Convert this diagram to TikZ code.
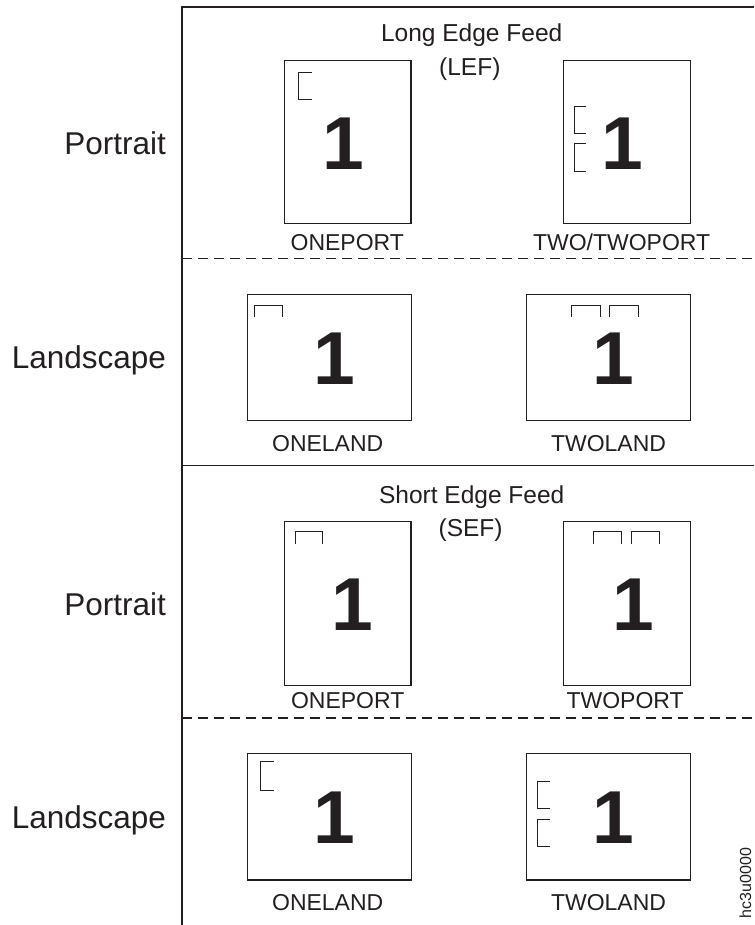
\documentclass[tikz,border=0pt]{standalone}
\usepackage{fontspec}
\setmainfont{Liberation Sans}
\definecolor{ink}{HTML}{231F20}
\begin{document}
\begin{tikzpicture}[x=1pt,y=-1pt,
  every node/.style={text=ink, inner sep=0pt, outer sep=0pt},
  side/.style={font=\fontsize{31.5}{36}\selectfont, anchor=base east},
  head/.style={font=\fontsize{24.5}{28}\selectfont, anchor=base},
  lab/.style={font=\fontsize{23}{27}\selectfont, anchor=base},
  big/.style={font=\fontsize{75}{80}\selectfont\bfseries, anchor=base},
  pbox/.style={draw=ink, line width=1.1pt, anchor=north west, minimum width=126.7pt, minimum height=162.6pt},
  lbox/.style={draw=ink, line width=1.1pt, anchor=north west, minimum width=164pt, minimum height=126.4pt},
  brk/.style={draw=ink, line width=0.9pt},
  frame/.style={draw=ink, line width=2pt},
  sep/.style={draw=ink, line width=1.4pt},
  dsep/.style={draw=ink, line width=1.4pt, dash pattern=on 10pt off 6pt}
]
\useasboundingbox (0,0) rectangle (754,925);

% frame and separators
\coordinate (ftop) at (182,7.5);
\coordinate (ftr) at (754,7.5);
\coordinate (fbot) at (182,925);
\draw[frame] (ftr) -- (ftop) -- (fbot);
\coordinate (s1a) at (182,258.5);
\coordinate (s1b) at (754,258.5);
\coordinate (s2a) at (182,465.5);
\coordinate (s2b) at (754,465.5);
\coordinate (s3a) at (182,718);
\coordinate (s3b) at (754,718);
\draw[dsep] (s1a) -- (s1b);
\draw[sep] (s2a) -- (s2b);
\draw[dsep] (s3a) -- (s3b);

% side labels
\node[side] (p1) at (166,154.3) {Portrait};
\node[side] (l1) at (166,368.5) {Landscape};
\node[side] (p2) at (166,615) {Portrait};
\node[side] (l2) at (166,828) {Landscape};

% headers
\node[head] (lef1) at (471.7,41.7) {Long Edge Feed};
\node[head] (lef2) at (469.8,75.5) {(LEF)};
\node[head] (sef1) at (471.7,503.3) {Short Edge Feed};
\node[head] (sef2) at (470.6,536) {(SEF)};

% LEF portrait
\node[pbox] (b1) at (284.3,60.7) {};
\draw[brk] (311.5,72.3) -- (298.5,72.3) -- (298.5,99.3) -- (311.5,99.3);
\node[big] (n1) at (343.5,170) {1};
\node[lab] (t1) at (347.3,251) {ONEPORT};

\node[pbox] (b2) at (563.7,60.7) {};
\draw[brk] (586.4,106) -- (574.1,106) -- (574.1,133.3) -- (586.4,133.3);
\draw[brk] (586.4,143.3) -- (574.1,143.3) -- (574.1,171) -- (586.4,171);
\node[big] (n2) at (622.6,170) {1};
\node[lab] (t2) at (621.6,251) {TWO/TWOPORT};

% LEF landscape
\node[lbox] (b3) at (247.1,294.3) {};
\draw[brk] (254.9,317.3) -- (254.9,305) -- (282.8,305) -- (282.8,317.3);
\node[big] (n3) at (334,384.3) {1};
\node[lab] (t3) at (327.7,451) {ONELAND};

\node[lbox] (b4) at (526.4,294.3) {};
\draw[brk] (571.5,317.3) -- (571.5,305) -- (600.2,305) -- (600.2,317.3);
\draw[brk] (609.5,317.3) -- (609.5,305) -- (638.2,305) -- (638.2,317.3);
\node[big] (n4) at (613.3,384.3) {1};
\node[lab] (t4) at (608.5,451) {TWOLAND};

% SEF portrait
\node[pbox, minimum height=164pt] (b5) at (284.3,521.7) {};
\draw[brk] (295.5,544) -- (295.5,531.7) -- (322.7,531.7) -- (322.7,544);
\node[big] (n5) at (352.6,630) {1};
\node[lab] (t5) at (347.7,708) {ONEPORT};

\node[pbox, minimum height=164pt] (b6) at (563.7,521.7) {};
\draw[brk] (593.5,544) -- (593.5,531.7) -- (621.8,531.7) -- (621.8,544);
\draw[brk] (631.1,544) -- (631.1,531.7) -- (659,531.7) -- (659,544);
\node[big] (n6) at (633.1,630) {1};
\node[lab] (t6) at (625.1,708) {TWOPORT};

% SEF landscape
\node[lbox, minimum height=126.7pt] (b7) at (247.1,753.3) {};
\draw[brk] (273.5,761.7) -- (260.5,761.7) -- (260.5,790) -- (273.5,790);
\node[big] (n7) at (334,843.3) {1};
\node[lab] (t7) at (327.7,910.5) {ONELAND};

\node[lbox, minimum height=126.7pt] (b8) at (526.4,753.3) {};
\draw[brk] (549.9,781.7) -- (537.6,781.7) -- (537.6,808.3) -- (549.9,808.3);
\draw[brk] (549.9,819.3) -- (537.6,819.3) -- (537.6,846.7) -- (549.9,846.7);
\node[big] (n8) at (613.3,843.3) {1};
\node[lab] (t8) at (608.5,910.5) {TWOLAND};

% figure id
\node[rotate=90, font=\fontsize{16}{18}\selectfont] (id) at (745.5,883) {hc3u0000};
\end{tikzpicture}
\end{document}
